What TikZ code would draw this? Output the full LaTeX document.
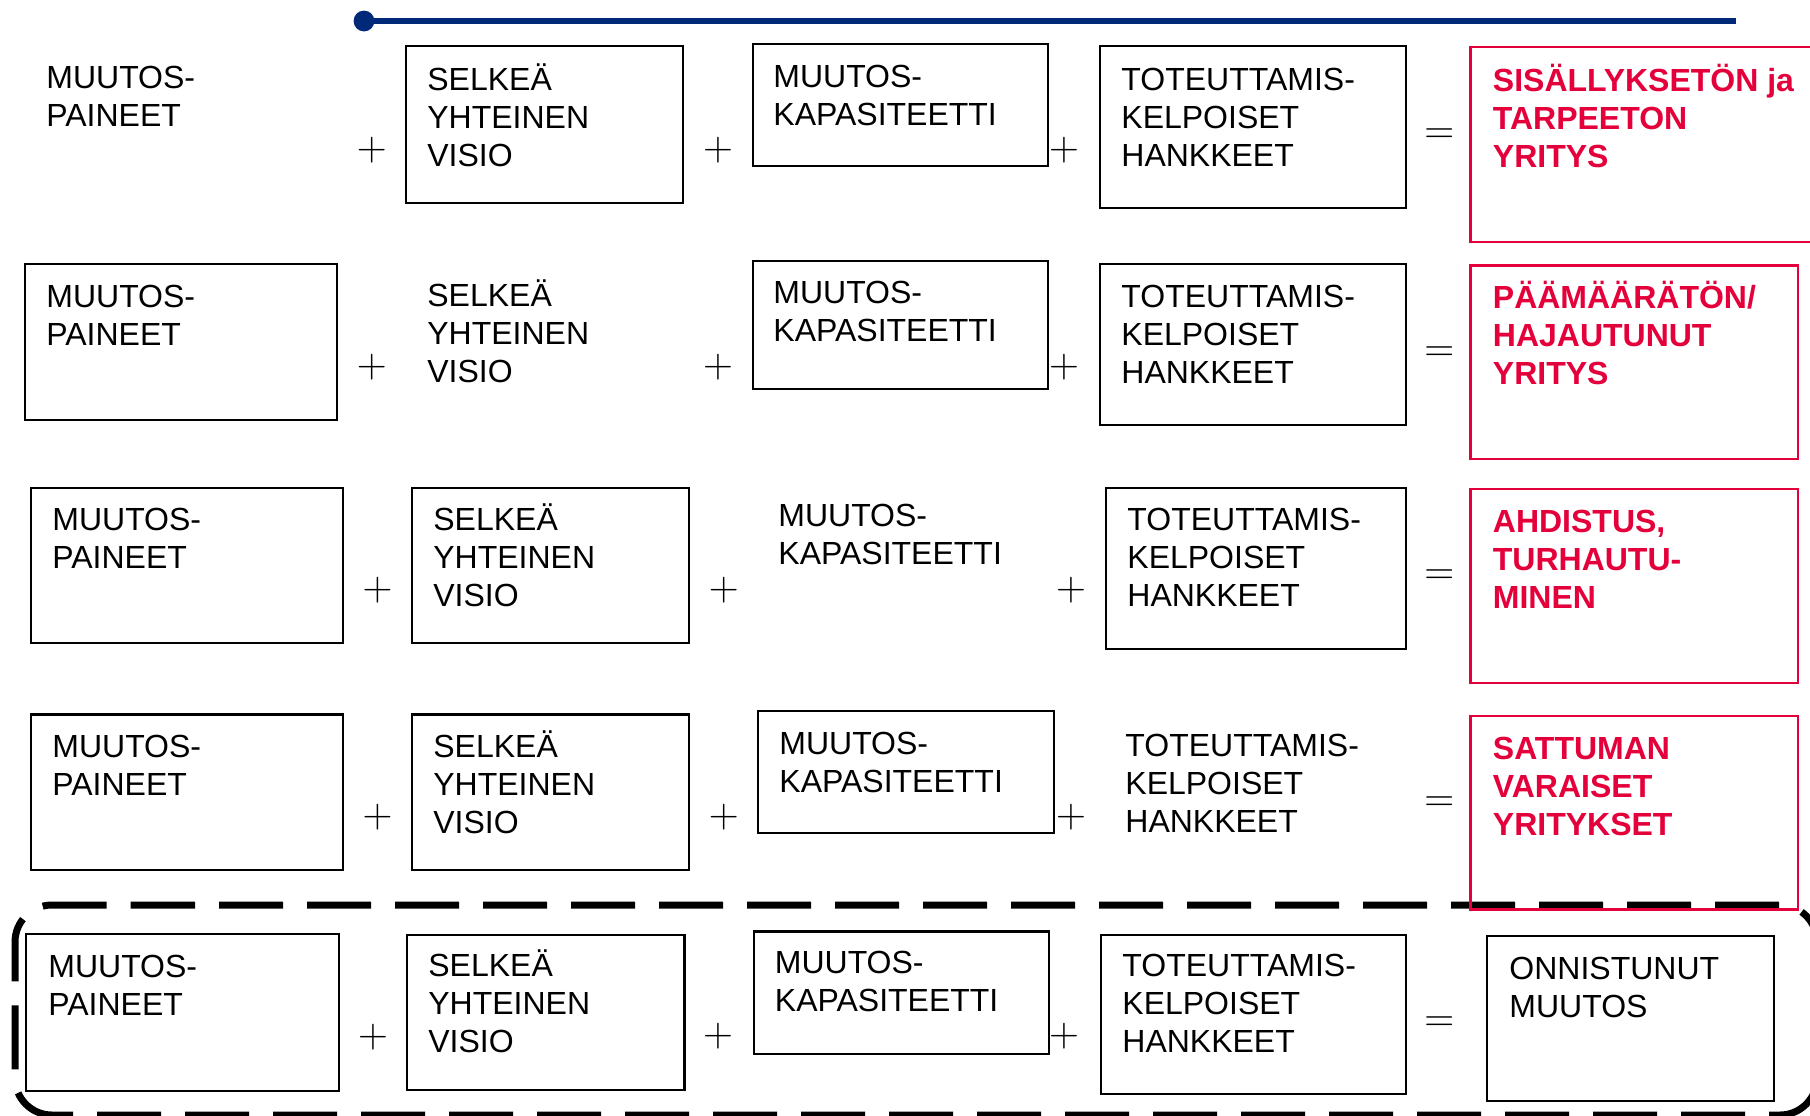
\documentclass[tikz,border=0pt]{standalone}
\usepackage[no-math]{fontspec}
\setmainfont{Liberation Sans}
\definecolor{navy}{RGB}{0,41,122}
\definecolor{redc}{RGB}{228,0,58}
\begin{document}
\begin{tikzpicture}[x=0.5pt,y=-0.5pt,
  box/.style={draw=black,line width=1.2pt},
  rbox/.style={draw=redc,line width=1.2pt},
  txt/.style={anchor=base west,align=left,inner sep=0pt,font=\fontsize{16}{19}\selectfont},
  two/.style={yshift=-19pt},
  three/.style={yshift=-38pt},
  rtxt/.style={txt,text=redc,font=\fontsize{16}{19}\selectfont\bfseries},
  op/.style={inner sep=0pt,font=\huge},
  dashframe/.style={draw=black,line width=3.5pt,dash pattern=on 32pt off 12pt,rounded corners=18.5pt}]
\useasboundingbox (0,0) rectangle (1810,1115);
\clip (0,0) rectangle (1810,1115);

% blue line
\coordinate (bstart) at (364,21);
\coordinate (bend) at (1736,21);
\draw[navy,line width=3pt] (bstart) -- (bend);
\fill[navy] (bstart) circle[radius=5.2pt];

% dashed frame (row 5)
\draw[dashframe] (94,905) -- (1817,905) -- (1817,1115) -- (15,1115) -- (15,905) -- cycle;

% ---------- Row 1
\node[txt,two] (r1a) at (46,88.8) {MUUTOS-\\PAINEET};
\node[op] (p1a) at (371.7,150) {$+$};
\draw[box] (406,46) rectangle (683,203);
\node[txt,three] (r1b) at (427,90) {SELKEÄ\\YHTEINEN\\VISIO};
\node[op] (p1b) at (718,150) {$+$};
\draw[box] (753,44) rectangle (1048,166);
\node[txt,two] (r1c) at (773,87.7) {MUUTOS-\\KAPASITEETTI};
\node[op] (p1c) at (1064,150) {$+$};
\draw[box] (1100,46) rectangle (1406,208);
\node[txt,three] (r1d) at (1121,90) {TOTEUTTAMIS-\\KELPOISET\\HANKKEET};
\node[op] (e1) at (1439.4,136) {$=$};

% ---------- Row 2
\draw[box] (25,264) rectangle (337,420);
\node[txt,two] (r2a) at (46,307) {MUUTOS-\\PAINEET};
\node[op] (p2a) at (371.7,367) {$+$};
\node[txt,three] (r2b) at (427,306) {SELKEÄ\\YHTEINEN\\VISIO};
\node[op] (p2b) at (718,367) {$+$};
\draw[box] (753,261) rectangle (1048,389);
\node[txt,two] (r2c) at (773,303.5) {MUUTOS-\\KAPASITEETTI};
\node[op] (p2c) at (1064,367) {$+$};
\draw[box] (1100,264) rectangle (1406,425);
\node[txt,three] (r2d) at (1121,307) {TOTEUTTAMIS-\\KELPOISET\\HANKKEET};
\node[op] (e2) at (1439.4,354) {$=$};

% ---------- Row 3
\draw[box] (31,488) rectangle (343,643);
\node[txt,two] (r3a) at (52,530) {MUUTOS-\\PAINEET};
\node[op] (p3a) at (377.5,590) {$+$};
\draw[box] (412,488) rectangle (689,643);
\node[txt,three] (r3b) at (433,530) {SELKEÄ\\YHTEINEN\\VISIO};
\node[op] (p3b) at (723.8,590) {$+$};
\node[txt,two] (r3c) at (778,526) {MUUTOS-\\KAPASITEETTI};
\node[op] (p3c) at (1071,590) {$+$};
\draw[box] (1106,488) rectangle (1406,649);
\node[txt,three] (r3d) at (1127,530) {TOTEUTTAMIS-\\KELPOISET\\HANKKEET};
\node[op] (e3) at (1439.4,577) {$=$};

% ---------- Row 4
\draw[box] (31,714.5) rectangle (343,870);
\node[txt,two] (r4a) at (52,757) {MUUTOS-\\PAINEET};
\node[op] (p4a) at (377.5,817) {$+$};
\draw[box] (412,714.5) rectangle (689,870);
\node[txt,three] (r4b) at (433,757) {SELKEÄ\\YHTEINEN\\VISIO};
\node[op] (p4b) at (723.8,817) {$+$};
\draw[box] (758,711) rectangle (1054,833);
\node[txt,two] (r4c) at (779,754) {MUUTOS-\\KAPASITEETTI};
\node[op] (p4c) at (1071,817) {$+$};
\node[txt,three] (r4d) at (1125,756) {TOTEUTTAMIS-\\KELPOISET\\HANKKEET};
\node[op] (e4) at (1439.4,804.5) {$=$};

% ---------- Row 5
\draw[box] (26,934) rectangle (339,1091);
\node[txt,two] (r5a) at (48,977) {MUUTOS-\\PAINEET};
\node[op] (p5a) at (373,1037.6) {$+$};
\draw[box] (407,935) rectangle (684.5,1090);
\node[txt,three] (r5b) at (428,976.5) {SELKEÄ\\YHTEINEN\\VISIO};
\node[op] (p5b) at (718,1036.6) {$+$};
\draw[box] (754,931.5) rectangle (1049,1054);
\node[txt,two] (r5c) at (774.5,973) {MUUTOS-\\KAPASITEETTI};
\node[op] (p5c) at (1064,1036.6) {$+$};
\draw[box] (1101,935) rectangle (1406,1094);
\node[txt,three] (r5d) at (1122,976.5) {TOTEUTTAMIS-\\KELPOISET\\HANKKEET};
\node[op] (e5) at (1439.4,1024) {$=$};
\draw[box] (1487,936) rectangle (1774,1101);
\node[txt,two] (r5e) at (1509,979) {ONNISTUNUT\\MUUTOS};

% ---------- red result boxes
\draw[rbox] (1470.6,47) rectangle (1830,242);
\node[rtxt,three] (res1) at (1492.5,91) {SISÄLLYKSETÖN ja\\TARPEETON\\YRITYS};
\draw[rbox] (1470.6,265.5) rectangle (1798,459);
\node[rtxt,three] (res2) at (1492.5,308) {PÄÄMÄÄRÄTÖN/\\HAJAUTUNUT\\YRITYS};
\draw[rbox] (1470.6,489) rectangle (1798,683);
\node[rtxt,three] (res3) at (1492.5,532) {AHDISTUS,\\TURHAUTU-\\MINEN};
\draw[rbox] (1470.6,715.7) rectangle (1798,909.6);
\node[rtxt,three] (res4) at (1492.5,759.5) {SATTUMAN\\VARAISET\\YRITYKSET};
\end{tikzpicture}
\end{document}
